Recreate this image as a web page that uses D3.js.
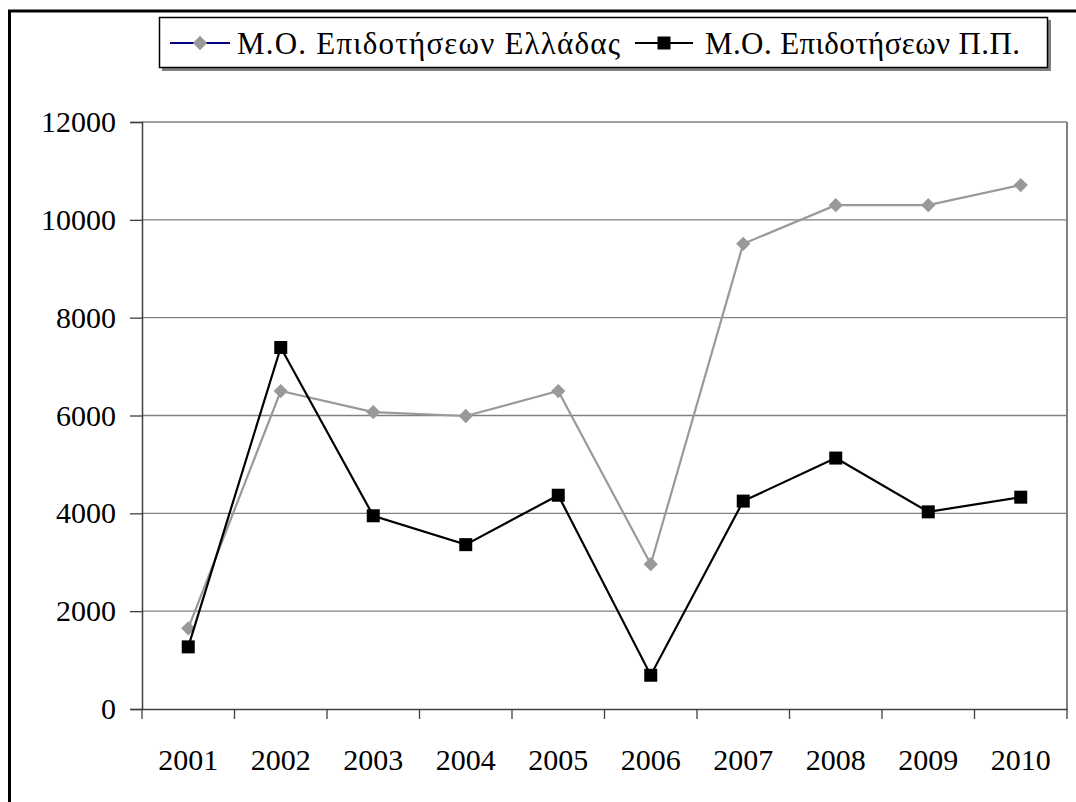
<!DOCTYPE html>
<html>
<head>
<meta charset="utf-8">
<script src="https://cdn.jsdelivr.net/npm/d3@7"></script>
<style>
  body { margin: 0; background: #fff; }
  svg text { font-family: "Liberation Serif", "Times New Roman", Tinos, "DejaVu Serif", serif; }
</style>
</head>
<body>
<svg id="chart" width="1076" height="802"></svg>
<script>
// categories and series
var years = ["2001", "2002", "2003", "2004", "2005", "2006", "2007", "2008", "2009", "2010"];
var greece = [1650, 6500, 6070, 5990, 6500, 2960, 9510, 10300, 10300, 10710];
var pp = [1270, 7390, 3950, 3360, 4370, 690, 4250, 5130, 4030, 4330];
var yTicks = [0, 2000, 4000, 6000, 8000, 10000, 12000];
var seriesNames = ["Μ.Ο. Επιδοτήσεων Ελλάδας", "Μ.Ο. Επιδοτήσεων Π.Π."];

var serif = '"Liberation Serif", "Times New Roman", Tinos, "DejaVu Serif", serif';

var svg = d3.select("#chart");
var plot = {left: 142, right: 1067, top: 122, bottom: 709};

// outer frame (only top and left show in the crop)
svg.append("rect")
    .attr("x", 9.5).attr("y", 11)
    .attr("width", 1100).attr("height", 900)
    .attr("fill", "none").attr("stroke", "#000").attr("stroke-width", 3);

var x = d3.scaleBand().domain(years).range([plot.left, plot.right]).padding(0);
var y = d3.scaleLinear().domain([0, 12000]).range([plot.bottom, plot.top]);

// grid lines
svg.append("g").selectAll("line")
    .data(yTicks.filter(function(d) { return d > 0; }))
  .enter().append("line")
    .attr("x1", plot.left).attr("x2", plot.right)
    .attr("y1", function(d) { return y(d); })
    .attr("y2", function(d) { return y(d); })
    .attr("stroke", "#808080").attr("stroke-width", 1.3);

// right border of plot area
svg.append("line")
    .attr("x1", plot.right).attr("x2", plot.right)
    .attr("y1", plot.top).attr("y2", plot.bottom)
    .attr("stroke", "#808080").attr("stroke-width", 2);

// y axis
var yAxis = d3.axisLeft(y).tickValues(yTicks).tickSize(12).tickPadding(14).tickFormat(d3.format("d"));
var gy = svg.append("g").attr("transform", "translate(" + plot.left + ",0)").call(yAxis);
gy.attr("font-family", null);
gy.select(".domain").attr("stroke", "#404040").attr("stroke-width", 1.5);
gy.selectAll(".tick line").attr("stroke", "#404040").attr("stroke-width", 1.3);
gy.selectAll("text").attr("font-size", 30).attr("fill", "#000")
    .style("font-family", serif);

// x axis: labels centred on categories, ticks on category boundaries
var xAxis = d3.axisBottom(x).tickSize(0).tickPadding(40);
var gx = svg.append("g").attr("transform", "translate(0," + plot.bottom + ")").call(xAxis);
gx.attr("font-family", null);
gx.select(".domain").attr("stroke", "#404040").attr("stroke-width", 1.5);
gx.selectAll("text").attr("font-size", 30).attr("fill", "#000")
    .style("font-family", serif);

var bounds = years.map(function(d) { return x(d); }).concat([x(years[years.length - 1]) + x.bandwidth()]);
gx.selectAll(".btick")
    .data(bounds)
  .enter().append("line")
    .attr("class", "btick")
    .attr("x1", function(d) { return d; }).attr("x2", function(d) { return d; })
    .attr("y1", 0).attr("y2", 10)
    .attr("stroke", "#404040").attr("stroke-width", 1.3);

function cx(i) { return x(years[i]) + x.bandwidth() / 2; }

var line = d3.line()
    .x(function(d, i) { return cx(i); })
    .y(function(d) { return y(d); });

// Greece series (grey, diamonds)
svg.append("path")
    .datum(greece)
    .attr("d", line)
    .attr("fill", "none").attr("stroke", "#999999").attr("stroke-width", 2.2);

var diamond = d3.symbol().type(d3.symbolDiamond2).size(130);
svg.append("g").selectAll("path")
    .data(greece)
  .enter().append("path")
    .attr("d", diamond)
    .attr("transform", function(d, i) { return "translate(" + cx(i) + "," + y(d) + ")"; })
    .attr("fill", "#999999");

// Π.Π. series (black, squares)
svg.append("path")
    .datum(pp)
    .attr("d", line)
    .attr("fill", "none").attr("stroke", "#000").attr("stroke-width", 2.2);

svg.append("g").selectAll("rect")
    .data(pp)
  .enter().append("rect")
    .attr("x", function(d, i) { return cx(i) - 6.5; })
    .attr("y", function(d) { return y(d) - 6.5; })
    .attr("width", 13).attr("height", 13)
    .attr("fill", "#000");

// legend box with shadow
var lg = svg.append("g");
lg.append("rect")
    .attr("x", 162).attr("y", 20).attr("width", 889).attr("height", 51)
    .attr("fill", "#808080");
lg.append("rect")
    .attr("x", 159.5).attr("y", 17.5).attr("width", 888).attr("height", 50)
    .attr("fill", "#fff").attr("stroke", "#000").attr("stroke-width", 1.5);

// item 1
lg.append("line").attr("x1", 170).attr("x2", 230).attr("y1", 43).attr("y2", 43)
    .attr("stroke", "#000080").attr("stroke-width", 2);
lg.append("path").attr("d", diamond)
    .attr("transform", "translate(200,43)").attr("fill", "#999999");
lg.append("text").attr("x", 237).attr("y", 54)
    .attr("font-size", 31).style("font-family", serif)
    .attr("textLength", 383).attr("lengthAdjust", "spacing")
    .text(seriesNames[0]);

// item 2
lg.append("line").attr("x1", 635).attr("x2", 693).attr("y1", 43).attr("y2", 43)
    .attr("stroke", "#000").attr("stroke-width", 2);
lg.append("rect").attr("x", 657.5).attr("y", 36.5).attr("width", 13).attr("height", 13)
    .attr("fill", "#000");
lg.append("text").attr("x", 705).attr("y", 54)
    .attr("font-size", 31).style("font-family", serif)
    .attr("textLength", 315).attr("lengthAdjust", "spacing")
    .text(seriesNames[1]);
</script>
</body>
</html>
